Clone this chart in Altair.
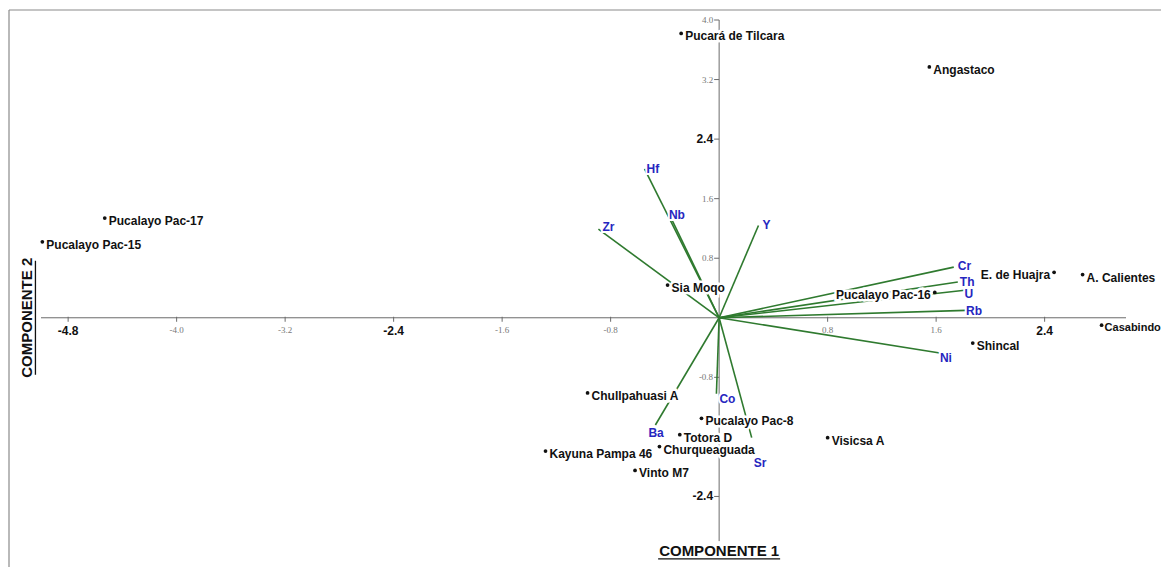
import altair as alt
import pandas as pd

# ---------------- data ----------------
sample_names = ["Pucará de Tilcara", "Angastaco", "Pucalayo Pac-17", "Pucalayo Pac-15",
                "Sia Moqo", "Pucalayo Pac-16", "E. de Huajra", "A. Calientes", "Casabindo",
                "Shincal", "Chullpahuasi A", "Pucalayo Pac-8", "Totora D", "Churqueaguada",
                "Visicsa A", "Kayuna Pampa 46", "Vinto M7"]
sample_x = [-0.28, 1.55, -4.53, -4.99, -0.38, 1.59, 2.47, 2.68, 2.82, 1.87,
            -0.97, -0.13, -0.29, -0.44, 0.80, -1.28, -0.62]
sample_y = [3.82, 3.37, 1.34, 1.02, 0.44, 0.34, 0.61, 0.58, -0.10, -0.34,
            -1.01, -1.35, -1.57, -1.73, -1.61, -1.79, -2.05]
left_labelled = ["Pucalayo Pac-16", "E. de Huajra"]
edge_labelled = ["Casabindo"]

loading_names = ["Hf", "Nb", "Zr", "Y", "Cr", "Th", "U", "Rb", "Ni", "Co", "Sr", "Ba"]
loading_x = [-0.55, -0.37, -0.89, 0.29, 1.73, 1.76, 1.81, 1.82, 1.65, -0.02, 0.24, -0.47]
loading_y = [2.00, 1.40, 1.19, 1.24, 0.68, 0.48, 0.37, 0.10, -0.48, -1.02, -1.61, -1.44]

xtick_vals = [-4.8, -4.0, -3.2, -2.4, -1.6, -0.8, 0.8, 1.6, 2.4]
xtick_labels = ["-4.8", "-4.0", "-3.2", "-2.4", "-1.6", "-0.8", "0.8", "1.6", "2.4"]
xtick_bold = [True, False, False, True, False, False, False, False, True]
ytick_vals = [4.0, 3.2, 2.4, 1.6, 0.8, -0.8, -2.4]
ytick_labels = ["4.0", "3.2", "2.4", "1.6", "0.8", "-0.8", "-2.4"]
ytick_bold = [False, False, True, False, False, False, True]

x_domain = [-5.0, 3.0]
y_domain = [-3.2, 4.0]
x_title = "COMPONENTE 1"
y_title = "COMPONENTE 2"

# ---------------- styling ----------------
FONT = "Liberation Sans"
GREEN = "#2f7a2f"
BLUE = "#2626c0"
AXIS = "#6b6b6b"
loading_label_offsets = {
    "Hf": (2, 0), "Nb": (0, 1), "Zr": (4, -2), "Y": (4, 0), "Cr": (4, -1),
    "Th": (2, 0), "U": (0, 4), "Rb": (0, 1), "Ni": (-3, 4), "Co": (3, 5),
    "Sr": (2, 25), "Ba": (-7, 8),
}

xs = alt.Scale(domain=x_domain, nice=False, zero=False)
ys = alt.Scale(domain=y_domain, nice=False, zero=False)


def X(f):
    return alt.X(f, type="quantitative", scale=xs, axis=None)


def Y(f):
    return alt.Y(f, type="quantitative", scale=ys, axis=None)


samples = pd.DataFrame({"name": sample_names, "x": sample_x, "y": sample_y})
samples["side"] = ["left" if n in left_labelled else ("edge" if n in edge_labelled else "right")
                   for n in sample_names]
loadings = pd.DataFrame({"name": loading_names, "x": loading_x, "y": loading_y,
                         "x0": 0.0, "y0": 0.0})

axes_df = pd.DataFrame({"x0": [x_domain[0], 0.0], "x1": [x_domain[1], 0.0],
                        "y0": [0.0, -3.0], "y1": [0.0, y_domain[1]]})
xt = pd.DataFrame({"v": xtick_vals, "lab": xtick_labels, "bold": xtick_bold, "z": 0.0})
yt = pd.DataFrame({"v": ytick_vals, "lab": ytick_labels, "bold": ytick_bold, "z": 0.0})

layers = []

# frame (decorative)
layers.append(alt.Chart(pd.DataFrame({"a": [0]})).mark_rule(color="#8a8a8a", strokeWidth=1.2).encode(
    x=alt.value(-32), x2=alt.value(1125), y=alt.value(-10)))
layers.append(alt.Chart(pd.DataFrame({"a": [0]})).mark_rule(color="#8a8a8a", strokeWidth=1.2).encode(
    x=alt.value(-32), y=alt.value(-10), y2=alt.value(560)))

# axis lines
layers.append(alt.Chart(axes_df).mark_rule(color=AXIS, strokeWidth=1).encode(
    x=X("x0"), x2="x1", y=Y("y0"), y2="y1"))
# ticks
layers.append(alt.Chart(xt).mark_rule(color=AXIS, strokeWidth=1, yOffset=-1, y2Offset=4).encode(
    x=X("v"), y=Y("z"), y2="z"))
layers.append(alt.Chart(yt).mark_rule(color=AXIS, strokeWidth=1, x2Offset=-5).encode(
    y=Y("v"), x=X("z"), x2="z"))

# loading vectors
layers.append(alt.Chart(loadings).mark_rule(color=GREEN, strokeWidth=1.6).encode(
    x=X("x0"), y=Y("y0"), x2="x", y2="y"))

# tick labels
layers.append(alt.Chart(xt).transform_filter("!datum.bold").mark_text(
    font="Liberation Sans Narrow", fontSize=9, color="#777777", baseline="top", dy=8).encode(
    x=X("v"), y=Y("z"), text="lab:N"))
layers.append(alt.Chart(xt).transform_filter("datum.bold").mark_text(
    font=FONT, fontSize=12, fontWeight="bold", color="#111111", baseline="top", dy=8).encode(
    x=X("v"), y=Y("z"), text="lab:N"))
layers.append(alt.Chart(yt).transform_filter("!datum.bold").mark_text(
    font="Liberation Sans Narrow", fontSize=9, color="#777777", align="right", baseline="middle", dx=-6).encode(
    x=X("z"), y=Y("v"), text="lab:N"))
layers.append(alt.Chart(yt).transform_filter("datum.bold").mark_text(
    font=FONT, fontSize=12, fontWeight="bold", color="#111111", align="right", baseline="middle", dx=-6).encode(
    x=X("z"), y=Y("v"), text="lab:N"))

# sample labels with white halo
for side, align, dx, fs in [("right", "left", 4, 12), ("left", "right", -4, 12), ("edge", "left", 3, 11)]:
    sub = alt.Chart(samples).transform_filter(alt.datum.side == side)
    layers.append(sub.mark_text(font=FONT, fontSize=fs, fontWeight="bold", align=align,
                                baseline="middle", dx=dx, dy=3, color="white",
                                stroke="white", strokeWidth=5).encode(
        x=X("x"), y=Y("y"), text="name:N"))
    layers.append(sub.mark_text(font=FONT, fontSize=fs, fontWeight="bold", align=align,
                                baseline="middle", dx=dx, dy=3, color="#111111").encode(
        x=X("x"), y=Y("y"), text="name:N"))

# sample dots
layers.append(alt.Chart(samples).mark_circle(size=14, color="#111111", opacity=1).encode(
    x=X("x"), y=Y("y")))

# loading labels
for nm in loading_names:
    dx, dy = loading_label_offsets[nm]
    sub = alt.Chart(loadings).transform_filter(alt.datum.name == nm)
    layers.append(sub.mark_text(font=FONT, fontSize=12, fontWeight="bold", align="left",
                                baseline="middle", dx=dx, dy=dy, color="white",
                                stroke="white", strokeWidth=4).encode(
        x=X("x"), y=Y("y"), text="name:N"))
    layers.append(sub.mark_text(font=FONT, fontSize=12, fontWeight="bold", align="left",
                                baseline="middle", dx=dx, dy=dy, color=BLUE).encode(
        x=X("x"), y=Y("y"), text="name:N"))

# axis titles (underlined)
t1 = pd.DataFrame({"t": [x_title], "x": [0.0], "y": [-3.13]})
layers.append(alt.Chart(t1).mark_text(font=FONT, fontSize=15, fontWeight="bold", color="#111111",
                                      baseline="middle", align="center").encode(
    x=X("x"), y=Y("y"), text="t:N"))
layers.append(alt.Chart(t1).mark_rule(color="#111111", strokeWidth=1.3, xOffset=-61, x2Offset=61,
                                      yOffset=8, y2Offset=8).encode(
    x=X("x"), x2="x", y=Y("y"), y2="y"))
t2 = pd.DataFrame({"t": [y_title], "x": [-5.10], "y": [0.0]})
layers.append(alt.Chart(t2).mark_text(font=FONT, fontSize=15, fontWeight="bold", color="#111111",
                                      baseline="middle", align="center", angle=270).encode(
    x=X("x"), y=Y("y"), text="t:N"))
layers.append(alt.Chart(t2).mark_rule(color="#111111", strokeWidth=1.3, xOffset=8, x2Offset=8,
                                      yOffset=-57, y2Offset=57).encode(
    x=X("x"), x2="x", y=Y("y"), y2="y"))

chart = alt.layer(*layers).properties(
    width=1085, height=536,
    autosize=alt.AutoSizeParams(type="none"),
    padding={"left": 33, "top": 12, "right": 35, "bottom": 11},
).configure(background="white", view=alt.ViewConfig(stroke=None))

chart.save("out.html", embed_options={"renderer": "svg", "actions": False})
